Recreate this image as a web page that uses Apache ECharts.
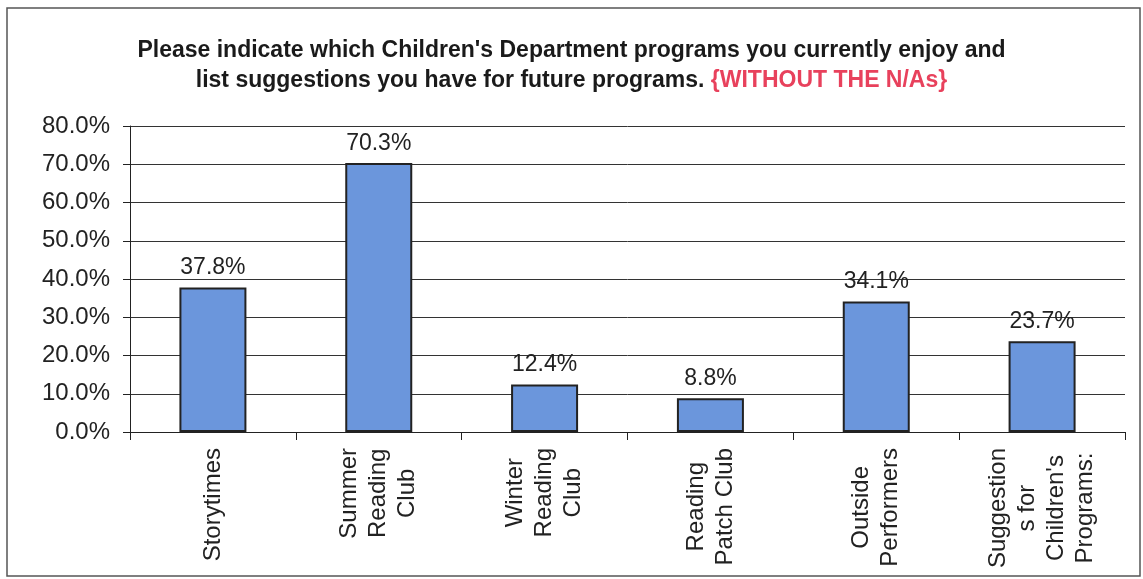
<!DOCTYPE html>
<html>
<head>
<meta charset="utf-8">
<script src="https://cdn.jsdelivr.net/npm/echarts@6/dist/echarts.min.js"></script>
<style>
  html, body { margin: 0; padding: 0; background: #fff; }
  #chart { width: 1143px; height: 579px; }
</style>
</head>
<body>
<div id="chart"></div>
<script>
const categories = [
  'Storytimes',
  'Summer\nReading\nClub',
  'Winter\nReading\nClub',
  'Reading\nPatch Club',
  'Outside\nPerformers',
  "Suggestion\ns for\nChildren's\nPrograms:"
];
const values = [37.8, 70.3, 12.4, 8.8, 34.1, 23.7];
const yTicks = { min: 0, max: 80, interval: 10 };
const titleLine1 = "Please indicate which Children's Department programs you currently enjoy and";
const titleLine2 = 'list suggestions you have for future programs. ';
const titleRed = '{WITHOUT THE N/As}';

const FONT = 'Liberation Sans';

const chart = echarts.init(document.getElementById('chart'));
chart.setOption({
  backgroundColor: '#fff',
  animation: false,
  graphic: [{
    type: 'rect',
    shape: { x: 7, y: 8, width: 1133, height: 568 },
    style: { fill: 'none', stroke: '#555', lineWidth: 1.5 },
    silent: true
  }],
  title: {
    text: '{b|' + titleLine1 + '}\n{b|' + titleLine2 + '}' + titleRed,
    left: 'center',
    top: 31,
    textStyle: {
      fontFamily: FONT, fontSize: 23, fontWeight: 'bold', color: '#e8415c', lineHeight: 30,
      rich: {
        b: { fontFamily: FONT, fontSize: 23, fontWeight: 'bold', color: '#1a1a1a', lineHeight: 30 }
      }
    }
  },
  grid: { left: 130, right: 18, top: 126, bottom: 147, containLabel: false, outerBoundsMode: 'none' },
  xAxis: {
    type: 'category',
    data: categories,
    axisLine: { show: true, lineStyle: { color: '#222', width: 1 } },
    axisTick: { show: true, alignWithLabel: false, length: 8, lineStyle: { color: '#222' } },
    axisLabel: {
      interval: 0,
      rotate: 90,
      margin: 16,
      fontFamily: FONT,
      fontSize: 24,
      color: '#222',
      formatter: function (v) {
        return v.split('\n').map(function (s) { return '{c|' + s + '}'; }).join('\n');
      },
      rich: {
        c: { fontFamily: FONT, fontSize: 24, color: '#222', lineHeight: 29, align: 'center' }
      }
    }
  },
  yAxis: {
    type: 'value',
    min: yTicks.min,
    max: yTicks.max,
    interval: yTicks.interval,
    axisLine: { show: true, lineStyle: { color: '#222', width: 1 } },
    axisTick: { show: true, inside: false, length: 7, lineStyle: { color: '#222' } },
    splitLine: { show: true, lineStyle: { color: '#333', width: 1 } },
    axisLabel: {
      margin: 20,
      fontFamily: FONT,
      fontSize: 24,
      color: '#222',
      formatter: function (v) { return v.toFixed(1) + '%'; }
    }
  },
  series: [{
    type: 'bar',
    data: values,
    barWidth: 67,
    itemStyle: { color: '#6b96dc', borderColor: '#222', borderWidth: 2 },
    label: {
      show: true,
      position: 'top',
      distance: 8,
      fontFamily: FONT,
      fontSize: 23,
      color: '#222',
      formatter: function (p) { return p.value.toFixed(1) + '%'; }
    }
  }]
});
</script>
</body>
</html>
